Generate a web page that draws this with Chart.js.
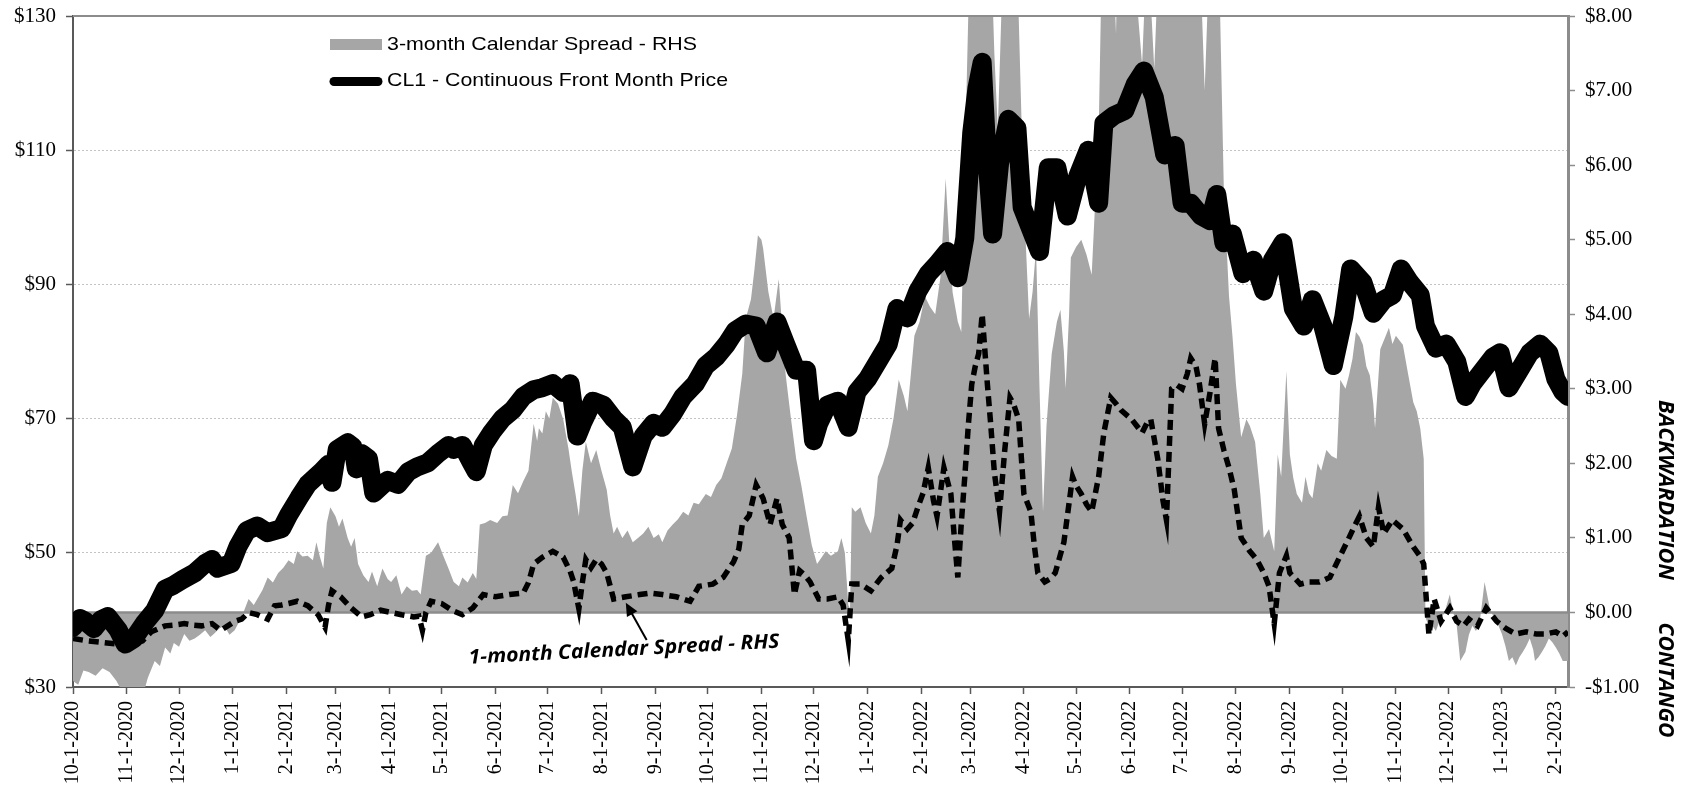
<!DOCTYPE html>
<html>
<head>
<meta charset="utf-8">
<script src="https://cdn.jsdelivr.net/npm/chart.js@4.4.1/dist/chart.umd.min.js"></script>
<style>
  html, body { margin: 0; padding: 0; background: #fff; }
  #wrap { width: 1683px; height: 788px; }
</style>
</head>
<body>
<div id="wrap"><canvas id="chart" width="1683" height="788"></canvas></div>
<script>
// x values are calendar days since 10-1-2020
const START = Date.UTC(2020, 9, 1);

const monthLabels = [
  "10-1-2020", "11-1-2020", "12-1-2020", "1-1-2021", "2-1-2021", "3-1-2021",
  "4-1-2021", "5-1-2021", "6-1-2021", "7-1-2021", "8-1-2021", "9-1-2021",
  "10-1-2021", "11-1-2021", "12-1-2021", "1-1-2022", "2-1-2022", "3-1-2022",
  "4-1-2022", "5-1-2022", "6-1-2022", "7-1-2022", "8-1-2022", "9-1-2022",
  "10-1-2022", "11-1-2022", "12-1-2022", "1-1-2023", "2-1-2023",
];
const leftTicks = [30, 50, 70, 90, 110, 130];
const rightTicks = [-1, 0, 1, 2, 3, 4, 5, 6, 7, 8];

// CL1 front month price (LHS)
const cl1Days = [0,4,7,12,16,20,26,30,35,41,47,53,58,63,70,76,80,83,91,95,100,106,112,120,124,130,135,143,147,149,152,158,161,163,166,170,173,181,187,193,198,204,210,216,219,224,229,232,236,241,247,253,259,265,270,276,282,286,290,293,299,305,311,316,322,328,334,339,345,351,358,364,370,376,381,387,393,399,405,410,416,422,426,429,434,440,446,451,457,463,469,474,480,486,492,497,503,509,513,517,520,523,526,529,533,538,543,546,551,556,561,566,572,578,584,590,593,599,605,611,616,622,628,634,638,643,649,654,658,662,667,673,679,685,690,696,702,708,713,719,725,731,735,742,748,754,759,764,769,775,778,784,790,796,801,805,811,817,821,826,832,838,844,849,853,857,860];
const cl1Price = [38.9,40.2,39.8,38.7,40.0,40.5,38.5,36.4,37.2,39.5,41.4,44.6,45.2,46,47,48.4,49,47.7,48.4,51,53.3,54,53,53.6,55.6,58.2,60.2,62.1,63.2,60.5,65.4,66.4,65.8,62.5,64.8,64,58.9,60.8,60.2,62.1,62.8,63.4,64.8,66,65.4,66,63.5,62.1,66,68,70,71.3,73.3,74.3,74.6,75.2,73.9,75.2,67.4,69.3,72.6,72,70,68.7,62.8,67.4,69.3,68.7,70.7,73.3,75.2,77.9,79.2,81.1,83.1,84.1,83.8,79.8,84.4,81.1,77.2,77.2,66.7,69.3,72,72.6,68.7,74,75.9,78.5,81.1,86.4,85,89,91.6,93,94.9,91,96.9,112.6,119.2,123.1,108,97.5,108,114.6,113.3,101.5,98.2,94.9,107.4,107.4,100.2,106.1,110,102.1,114,115.2,115.9,119.8,121.8,117.9,109.3,110.7,102.1,102.1,100.2,99.5,103.4,96.2,97.5,91.6,93.6,89,93.6,96.2,86.4,83.8,87.7,83.8,77.9,85.1,92.3,90.3,85.7,87.7,88.4,92.3,90.3,88.4,83.8,80.5,81.1,78.5,73.3,75.2,77.2,79.2,79.8,74.6,77.2,79.8,81.1,79.8,75.9,74,73.3];

// 3-month calendar spread (RHS)
const spread3Days = [0,3,6,9,13,17,21,25,28,32,37,41,43,47,50,53,56,58,61,64,67,70,73,76,79,81,84,87,90,93,97,101,104,106,109,112,115,118,121,124,127,129,132,135,138,140,142,144,146,148,151,153,155,158,160,162,164,167,170,172,175,178,181,183,186,189,192,195,198,200,203,206,210,213,216,219,222,224,227,230,232,234,237,240,244,247,250,253,256,259,262,265,267,268,270,272,274,276,279,282,285,287,289,291,293,295,298,301,304,307,309,311,313,316,319,322,325,328,331,334,337,339,342,345,348,351,354,357,360,364,367,370,373,376,379,382,385,387,390,392,394,396,397,400,403,405,406,408,410,413,416,419,422,425,428,431,433,436,440,442,444,446,447,448,450,453,456,459,461,463,466,469,472,475,478,480,482,484,487,490,493,496,499,502,504,506,509,511,513,516,521,528,530,532,534,536,542,544,546,548,550,552,554,556,558,560,563,566,568,570,571,573,574,577,580,583,586,588,590,592,598,600,601,609,612,615,617,618,620,622,624,628,632,639,645,648,651,654,659,662,665,667,669,672,675,677,680,683,685,688,691,693,695,698,700,702,704,707,709,711,713,716,718,721,724,727,729,732,734,736,738,740,742,744,746,748,749,752,755,757,759,761,763,765,768,771,773,775,777,778,780,782,784,786,789,792,794,796,798,801,803,805,807,809,812,815,817,819,822,824,826,828,830,832,834,836,838,840,841,843,845,847,849,851,853,855,857,860];
const spread3 = [-0.92,-0.97,-0.78,-0.8,-0.85,-0.75,-0.8,-0.92,-1.05,-1.0,-1.05,-1.05,-0.88,-0.65,-0.72,-0.47,-0.55,-0.41,-0.46,-0.29,-0.38,-0.35,-0.3,-0.24,-0.33,-0.29,-0.22,-0.18,-0.3,-0.24,-0.06,0.18,0.1,0.18,0.3,0.47,0.4,0.53,0.6,0.7,0.65,0.82,0.75,0.76,0.7,0.94,0.75,0.59,1.2,1.41,1.29,1.15,1.26,1.0,0.88,1.0,0.65,0.5,0.41,0.55,0.35,0.59,0.45,0.41,0.5,0.24,0.35,0.29,0.3,0.24,0.76,0.8,0.94,0.76,0.59,0.41,0.35,0.47,0.4,0.53,0.45,1.18,1.2,1.24,1.2,1.29,1.3,1.71,1.6,1.76,1.9,2.53,2.3,2.47,2.4,2.7,2.6,2.88,2.8,2.59,2.2,1.88,1.6,1.29,1.9,2.29,2.0,2.18,1.9,1.65,1.3,1.06,1.15,1.0,1.1,0.94,1.0,1.06,1.15,1.0,1.05,0.94,1.1,1.18,1.25,1.35,1.3,1.47,1.45,1.59,1.55,1.71,1.8,2.0,2.2,2.65,3.2,3.94,4.2,4.6,5.06,5.0,4.88,4.3,3.94,4.3,4.47,3.8,3.18,2.6,2.06,1.7,1.29,0.9,0.65,0.75,0.82,0.76,0.82,1.0,0.8,0.1,0.05,1.41,1.35,1.41,1.2,1.06,1.3,1.82,2.0,2.24,2.6,3.12,2.9,2.7,3.2,3.71,3.9,4.24,4.1,4.0,4.5,5.82,5.0,4.29,3.9,3.76,6.0,9,9,9,7.5,6.47,8.0,9,9,8.0,6.29,5.0,3.94,4.3,4.88,3.0,1.35,2.5,3.47,3.9,4.06,3.5,3.0,4.0,4.76,4.9,5.0,4.8,4.53,5.5,6.41,9,9,7.76,9,9,8.2,7.35,8.5,9,8.2,7.29,8.5,9,9,9,9,9,7.0,9,9,5.7,4.24,3.7,3.06,2.35,2.59,2.5,2.29,1.59,1.0,1.12,0.82,2.12,1.82,3.24,2.12,1.8,1.59,1.47,1.82,1.6,1.53,2.0,1.9,2.18,2.1,2.06,3.12,3.0,3.18,3.4,3.76,3.7,3.59,3.3,3.18,2.8,2.47,3.53,3.7,3.82,3.6,3.71,3.65,3.59,3.2,2.82,2.7,2.47,2.06,-0.06,-0.2,-0.18,-0.25,-0.12,0.0,0.24,0.0,-0.18,-0.65,-0.53,-0.3,-0.18,-0.25,-0.18,0.41,0.06,-0.05,-0.12,-0.29,-0.45,-0.65,-0.6,-0.71,-0.6,-0.53,-0.45,-0.35,-0.5,-0.65,-0.6,-0.53,-0.45,-0.35,-0.4,-0.47,-0.55,-0.65,-0.65];

// 1-month calendar spread (RHS)
const spread1Days = [0,8,16,24,32,40,45,49,53,58,64,69,74,80,85,89,93,97,101,106,112,116,120,124,129,135,141,145,147,149,154,160,166,171,177,183,189,196,199,201,203,206,212,218,224,230,236,243,251,259,262,265,270,276,282,286,288,291,293,295,298,301,304,307,311,318,326,332,339,347,355,360,368,374,380,383,385,389,393,397,401,405,408,412,415,418,421,424,429,434,440,443,446,448,453,459,465,471,474,476,480,483,486,489,492,495,497,501,505,507,509,511,513,515,517,519,521,523,526,528,530,533,536,539,541,544,547,551,553,555,559,562,565,570,575,577,580,583,586,590,593,597,600,603,606,609,612,615,618,620,624,627,629,632,635,638,641,643,646,648,651,654,657,659,662,665,668,672,677,681,685,688,691,694,698,700,706,711,717,723,729,734,737,740,744,748,751,754,759,765,771,775,777,780,783,787,792,796,800,803,808,813,819,824,830,836,842,847,853,857,860];
const spread1 = [-0.35,-0.38,-0.4,-0.42,-0.45,-0.38,-0.26,-0.22,-0.18,-0.17,-0.15,-0.17,-0.18,-0.15,-0.24,-0.18,-0.12,-0.09,0,-0.03,-0.09,0.09,0.1,0.12,0.15,0.09,-0.03,-0.2,0.1,0.29,0.21,0.06,-0.06,-0.03,0.03,0,-0.03,-0.06,-0.05,-0.24,0.0,0.15,0.12,0.03,-0.03,0.06,0.24,0.21,0.24,0.26,0.4,0.65,0.74,0.82,0.74,0.55,0.41,0.05,0.4,0.71,0.6,0.71,0.65,0.53,0.18,0.21,0.24,0.26,0.24,0.21,0.15,0.35,0.38,0.47,0.68,0.85,1.18,1.3,1.71,1.53,1.18,1.53,1.18,1.0,0.24,0.56,0.5,0.41,0.18,0.18,0.21,0.1,-0.38,0.38,0.38,0.29,0.47,0.59,0.9,1.24,1.12,1.2,1.41,1.6,1.94,1.5,1.29,1.94,1.59,1.0,0.47,1.2,1.82,2.5,3.06,3.3,3.47,4.0,3.06,2.5,1.88,1.35,2.18,2.88,2.8,2.59,1.59,1.35,0.9,0.53,0.41,0.45,0.53,0.94,1.82,1.7,1.59,1.45,1.35,1.82,2.41,2.88,2.8,2.71,2.65,2.59,2.5,2.41,2.55,2.59,2.06,1.5,1.24,3.0,3.05,3.0,3.2,3.41,3.3,3.06,2.53,2.94,3.41,2.47,2.18,1.94,1.65,1.0,0.82,0.71,0.53,0.35,-0.15,0.53,0.76,0.53,0.38,0.41,0.41,0.47,0.76,1.0,1.15,1.29,1.0,0.88,1.41,1.06,1.24,1.12,0.88,0.75,0.65,-0.3,0.18,-0.12,0.06,-0.12,-0.18,-0.09,-0.18,0.06,-0.12,-0.21,-0.29,-0.26,-0.29,-0.29,-0.26,-0.32,-0.26];

const SERIF = '"Liberation Serif", "Times New Roman", serif';
const SANS = '"Liberation Sans", Arial, sans-serif';
const CALLOUT = '"Open Sans", "Liberation Sans", sans-serif';

function dayOf(label) {
  const [m, d, y] = label.split("-").map(Number);
  return Math.round((Date.UTC(y, m - 1, d) - START) / 86400000);
}
const labelByDay = Object.fromEntries(monthLabels.map((l) => [dayOf(l), l]));

function toPoints(days, values) {
  return days.map((d, i) => ({ x: d, y: values[i] }));
}

// draws text squeezed/stretched to a given width
function fitText(ctx, text, x, y, width, angle, font, align) {
  ctx.save();
  ctx.font = font;
  const w = ctx.measureText(text).width;
  ctx.translate(x, y);
  ctx.rotate(angle);
  ctx.scale(width / w, 1);
  ctx.textAlign = align || "center";
  ctx.textBaseline = "middle";
  ctx.fillStyle = "#000";
  ctx.fillText(text, 0, 0);
  ctx.restore();
}

// keep the vertical axes from pushing the plot area down
function noVerticalPad(scale) {
  scale.paddingTop = 0;
  scale.paddingBottom = 0;
}

const overlayPlugin = {
  id: "overlay",
  afterDatasetDraw(chart, args) {
    // zero line of the RHS, drawn over the grey area
    if (args.index !== 0) return;
    const { ctx, chartArea } = chart;
    const y0 = chart.scales.y1.getPixelForValue(0);
    ctx.save();
    ctx.strokeStyle = "#8c8c8c";
    ctx.lineWidth = 2.5;
    ctx.beginPath();
    ctx.moveTo(chartArea.left, y0);
    ctx.lineTo(chartArea.right, y0);
    ctx.stroke();
    ctx.restore();
  },
  afterDraw(chart) {
    const { ctx, chartArea } = chart;
    const xs = chart.scales.x;
    const ys = chart.scales.y1;

    // top frame
    ctx.save();
    ctx.strokeStyle = "#8c8c8c";
    ctx.lineWidth = 2;
    ctx.beginPath();
    ctx.moveTo(chartArea.left, chartArea.top);
    ctx.lineTo(chartArea.right, chartArea.top);
    ctx.stroke();

    // legend
    ctx.fillStyle = "#a6a6a6";
    ctx.fillRect(330, 39, 52, 11);
    ctx.strokeStyle = "#000";
    ctx.lineWidth = 9;
    ctx.lineCap = "round";
    ctx.beginPath();
    ctx.moveTo(334, 81.5);
    ctx.lineTo(378, 81.5);
    ctx.stroke();
    ctx.restore();
    fitText(ctx, "3-month Calendar Spread - RHS", 387, 44.5, 310, 0, "19px " + SANS, "left");
    fitText(ctx, "CL1 - Continuous Front Month Price", 387, 81, 341, 0, "19px " + SANS, "left");

    // 1-month callout with arrow
    const tipX = xs.getPixelForValue(318), tipY = ys.getPixelForValue(0.13);
    const tailX = xs.getPixelForValue(330), tailY = ys.getPixelForValue(-0.37);
    const ang = Math.atan2(tipY - tailY, tipX - tailX);
    ctx.save();
    ctx.strokeStyle = "#000";
    ctx.fillStyle = "#000";
    ctx.lineWidth = 2;
    ctx.beginPath();
    ctx.moveTo(tailX, tailY);
    ctx.lineTo(tipX - 8 * Math.cos(ang), tipY - 8 * Math.sin(ang));
    ctx.stroke();
    ctx.beginPath();
    ctx.moveTo(tipX, tipY);
    ctx.lineTo(tipX - 13 * Math.cos(ang) + 6 * Math.sin(ang), tipY - 13 * Math.sin(ang) - 6 * Math.cos(ang));
    ctx.lineTo(tipX - 13 * Math.cos(ang) - 6 * Math.sin(ang), tipY - 13 * Math.sin(ang) + 6 * Math.cos(ang));
    ctx.closePath();
    ctx.fill();
    ctx.restore();
    fitText(ctx, "1-month Calendar Spread - RHS", 624, 650, 311, -3 * Math.PI / 180, "italic bold 20px " + CALLOUT);

    // side labels
    fitText(ctx, "BACKWARDATION", chartArea.right + 97, 490, 180, Math.PI / 2, "italic bold 21px " + CALLOUT);
    fitText(ctx, "CONTANGO", chartArea.right + 97, 680, 115, Math.PI / 2, "italic bold 21px " + CALLOUT);
  },
};

new Chart(document.getElementById("chart"), {
  type: "line",
  data: {
    datasets: [
      {
        label: "3-month Calendar Spread - RHS",
        data: toPoints(spread3Days, spread3),
        yAxisID: "y1",
        fill: "origin",
        backgroundColor: "#a6a6a6",
        borderColor: "rgba(0,0,0,0)",
        borderWidth: 0,
        pointRadius: 0,
        tension: 0,
        order: 3,
      },
      {
        label: "1-month Calendar Spread - RHS",
        data: toPoints(spread1Days, spread1),
        yAxisID: "y1",
        fill: false,
        borderColor: "#000",
        borderWidth: 5.5,
        borderDash: [10, 6],
        pointRadius: 0,
        tension: 0,
        order: 2,
      },
      {
        label: "CL1 - Continuous Front Month Price",
        data: toPoints(cl1Days, cl1Price),
        yAxisID: "y",
        fill: false,
        borderColor: "#000",
        borderWidth: 19,
        borderJoinStyle: "round",
        borderCapStyle: "round",
        pointRadius: 0,
        tension: 0,
        order: 1,
      },
    ],
  },
  options: {
    responsive: false,
    animation: false,
    devicePixelRatio: 1,
    layout: { padding: { top: 16, left: 0, right: 0, bottom: 0 } },
    plugins: { legend: { display: false }, tooltip: { enabled: false } },
    scales: {
      x: {
        type: "linear",
        position: "bottom",
        min: 0,
        max: 860,
        afterBuildTicks: (scale) => {
          scale.ticks = monthLabels.map((l) => ({ value: dayOf(l) }));
        },
        afterFit: (scale) => {
          scale.height = 101;
        },
        ticks: {
          autoSkip: false,
          minRotation: 90,
          maxRotation: 90,
          padding: 7,
          color: "#000",
          font: { family: SERIF, size: 20 },
          callback: (v) => labelByDay[v],
        },
        grid: { drawOnChartArea: false, drawTicks: true, tickLength: 7, tickColor: "#595959", tickWidth: 1.5 },
        border: { color: "#595959", width: 2 },
      },
      y: {
        position: "left",
        min: 30,
        max: 130,
        afterBuildTicks: (scale) => {
          scale.ticks = leftTicks.map((v) => ({ value: v }));
        },
        afterFit: (scale) => {
          scale.width = 73;
          noVerticalPad(scale);
        },
        ticks: {
          padding: 10,
          color: "#000",
          font: { family: SERIF, size: 21 },
          callback: (v) => "$" + v,
        },
        grid: { color: "#c4c4c4", lineWidth: 1, drawTicks: true, tickLength: 7, tickColor: "#595959", tickWidth: 1.5 },
        border: { color: "#595959", width: 2, dash: [2, 2] },
      },
      y1: {
        position: "right",
        min: -1,
        max: 8,
        afterBuildTicks: (scale) => {
          scale.ticks = rightTicks.map((v) => ({ value: v }));
        },
        afterFit: (scale) => {
          scale.width = 115;
          noVerticalPad(scale);
        },
        ticks: {
          padding: 10,
          color: "#000",
          font: { family: SERIF, size: 21 },
          callback: (v) => (v < 0 ? "-$" : "$") + Math.abs(v).toFixed(2),
        },
        grid: { drawOnChartArea: false, drawTicks: true, tickLength: 7, tickColor: "#8c8c8c", tickWidth: 1.5 },
        border: { color: "#8c8c8c", width: 3 },
      },
    },
  },
  plugins: [overlayPlugin],
});
</script>
</body>
</html>
